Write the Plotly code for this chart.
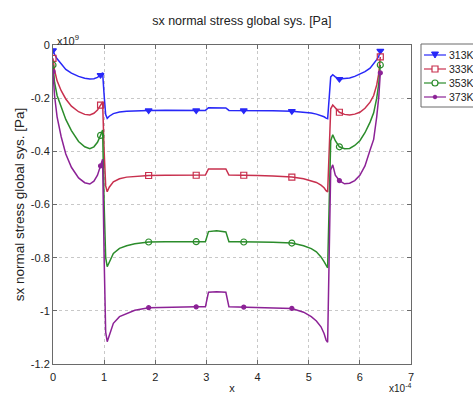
import plotly.graph_objects as go

# ---------------- data (x in 1e-4, stress in 1e9 Pa) ----------------
x = [0, 0.03, 0.08, 0.16, 0.25, 0.36, 0.5, 0.62, 0.72, 0.8,
     0.87, 0.93, 0.97, 1.0, 1.03, 1.06, 1.1, 1.18, 1.3, 1.44,
     1.6, 1.87, 2.2, 2.5, 2.8, 2.98, 3.04, 3.2, 3.38, 3.44,
     3.6, 3.73, 4.0, 4.3, 4.67, 4.9, 5.05, 5.15, 5.24, 5.3,
     5.34, 5.37, 5.4, 5.43, 5.47, 5.52, 5.6, 5.7, 5.8, 5.9,
     6.0, 6.1, 6.2, 6.27, 6.33, 6.37, 6.4]

s313 = [-0.02, -0.035, -0.052, -0.073, -0.092, -0.106, -0.118, -0.125, -0.128, -0.127,
        -0.122, -0.113, -0.104, -0.19, -0.262, -0.276, -0.268, -0.258, -0.252, -0.249,
        -0.247, -0.246, -0.245, -0.245, -0.246, -0.246, -0.236, -0.236, -0.237, -0.246,
        -0.246, -0.246, -0.246, -0.247, -0.249, -0.252, -0.256, -0.26, -0.265, -0.27,
        -0.275, -0.277, -0.2, -0.12, -0.112, -0.12, -0.128, -0.127, -0.124, -0.118,
        -0.11, -0.1, -0.087, -0.072, -0.055, -0.042, -0.022]

s333 = [-0.05, -0.095, -0.135, -0.172, -0.203, -0.23, -0.251, -0.261, -0.263, -0.257,
        -0.245, -0.226, -0.214, -0.4, -0.53, -0.552, -0.535, -0.515, -0.503, -0.497,
        -0.494, -0.491, -0.49, -0.49, -0.49, -0.489, -0.466, -0.465, -0.466, -0.489,
        -0.489, -0.49, -0.491, -0.493, -0.497, -0.503, -0.51, -0.517, -0.527, -0.537,
        -0.548, -0.553, -0.4, -0.24, -0.226, -0.238, -0.253, -0.261, -0.263, -0.26,
        -0.253, -0.238, -0.215, -0.19, -0.15, -0.107, -0.045]

s353 = [-0.075, -0.14, -0.19, -0.235, -0.28, -0.322, -0.363, -0.383, -0.39, -0.383,
        -0.366, -0.34, -0.32, -0.6, -0.8, -0.834, -0.815, -0.784, -0.765, -0.755,
        -0.748, -0.741, -0.74, -0.74, -0.74, -0.74, -0.702, -0.699, -0.703, -0.74,
        -0.74, -0.741, -0.741, -0.742, -0.745, -0.755, -0.766, -0.778, -0.797, -0.815,
        -0.832, -0.838, -0.6, -0.36, -0.338, -0.36, -0.383, -0.39, -0.389, -0.378,
        -0.36, -0.33, -0.29, -0.255, -0.2, -0.145, -0.075]

s373 = [-0.1, -0.19, -0.27, -0.345, -0.41, -0.46, -0.5, -0.518, -0.523, -0.512,
        -0.49, -0.455, -0.43, -0.8, -1.08, -1.116, -1.09, -1.047, -1.022, -1.01,
        -0.998, -0.988, -0.986, -0.985, -0.985, -0.985, -0.93, -0.928, -0.93, -0.985,
        -0.986, -0.986, -0.987, -0.988, -0.991, -1.005, -1.022, -1.038, -1.06, -1.085,
        -1.11, -1.118, -0.8, -0.47, -0.451, -0.49, -0.51, -0.522, -0.52, -0.51,
        -0.49, -0.455, -0.395, -0.355, -0.27, -0.195, -0.105]

marker_idx = [0, 11, 21, 24, 31, 34, 46, 56]

labels = ["313K", "333K", "353K", "373K"]
x_ticks = [0, 1, 2, 3, 4, 5, 6, 7]
x_ticktext = ["0", "1", "2", "3", "4", "5", "6", "7"]
y_ticks = [0, -0.2, -0.4, -0.6, -0.8, -1, -1.2]
y_ticktext = ["0", "-0.2", "-0.4", "-0.6", "-0.8", "-1", "-1.2"]

# ---------------- styles ----------------
series = [s313, s333, s353, s373]
colors = ["#2828f8", "#c8304e", "#2b8c2b", "#8c2296"]
symbols = ["triangle-down", "square-open", "circle-open", "circle"]
msizes = [6, 6, 6, 4]
FONT = "Liberation Sans, Arial, sans-serif"
TXT = "#222"

W, H = 473, 394
L, R, T, B = 53, 62, 45, 30
PW, PH = W - L - R, H - T - B


def px_x(p):
    return (p - L) / PW


def px_y(p):
    return (H - B - p) / PH


fig = go.Figure()
for s, c, sym, ms, lab in zip(series, colors, symbols, msizes, labels):
    fig.add_trace(go.Scatter(x=x, y=s, mode="lines", line=dict(color=c, width=1.5),
                             name=lab, showlegend=False, hoverinfo="skip"))
    fig.add_trace(go.Scatter(x=[x[i] for i in marker_idx], y=[s[i] for i in marker_idx],
                             mode="markers", showlegend=False, name=lab,
                             marker=dict(symbol=sym, size=ms, color=c,
                                         line=dict(color=c, width=1.2))))

axis_common = dict(showline=True, linecolor="#6a6a6a", linewidth=1, mirror="allticks",
                   ticks="inside", ticklen=4, tickcolor="#6a6a6a", automargin=False,
                   showgrid=True, gridcolor="#c8c8c8", griddash="dot", gridwidth=1,
                   zeroline=False, tickfont=dict(family=FONT, size=11, color=TXT))

fig.update_xaxes(range=[0, 7], tickvals=x_ticks, ticktext=x_ticktext, ticklabelstandoff=3,
                 title=dict(text="x", font=dict(family=FONT, size=11, color=TXT), standoff=8),
                 **axis_common)
fig.update_yaxes(range=[-1.2, 0], tickvals=y_ticks, ticktext=y_ticktext,
                 title=dict(text="sx normal stress global sys. [Pa]",
                            font=dict(family=FONT, size=13.5, color=TXT), standoff=3),
                 **axis_common)

shapes = []
annotations = []

# custom legend (partially outside the window, as in the reference)
shapes.append(dict(type="rect", xref="paper", yref="paper",
                   x0=px_x(421), x1=px_x(490), y0=px_y(107), y1=px_y(44),
                   line=dict(color="#6a6a6a", width=1), fillcolor="white", layer="above"))
entry_y = [55, 69, 83, 97]
for ey, c, sym, lab in zip(entry_y, colors, symbols, labels):
    yy = px_y(ey)
    shapes.append(dict(type="line", xref="paper", yref="paper",
                       x0=px_x(424), x1=px_x(446), y0=yy, y1=yy,
                       line=dict(color=c, width=1.2), layer="above"))
    xa = px_x(435)
    base = dict(xref="paper", yref="paper", xsizemode="pixel", ysizemode="pixel",
                xanchor=xa, yanchor=yy, layer="above")
    if sym == "triangle-down":
        shapes.append(dict(type="path", path="M-3.5,3 L3.5,3 L0,-3 Z",
                           fillcolor=c, line=dict(color=c, width=1), **base))
    elif sym == "square-open":
        shapes.append(dict(type="rect", x0=-3, x1=3, y0=-3, y1=3,
                           fillcolor="white", line=dict(color=c, width=1.2), **base))
    elif sym == "circle-open":
        shapes.append(dict(type="circle", x0=-3, x1=3, y0=-3, y1=3,
                           fillcolor="white", line=dict(color=c, width=1.2), **base))
    else:
        shapes.append(dict(type="circle", x0=-1.8, x1=1.8, y0=-1.8, y1=1.8,
                           fillcolor=c, line=dict(color=c, width=1), **base))
    annotations.append(dict(xref="paper", yref="paper", x=px_x(447), y=yy,
                            xanchor="left", yanchor="middle", showarrow=False,
                            text=lab, font=dict(family=FONT, size=10.5, color=TXT)))

# axis multipliers
annotations.append(dict(xref="paper", yref="paper", x=0, y=1, xanchor="left", yanchor="bottom",
                        xshift=2, yshift=-4, showarrow=False, text="x10<sup>9</sup>",
                        font=dict(family=FONT, size=11, color=TXT)))
annotations.append(dict(xref="paper", yref="paper", x=1, y=0, xanchor="right", yanchor="top",
                        xshift=2, yshift=-16, showarrow=False, text="x10<sup>-4</sup>",
                        font=dict(family=FONT, size=10, color=TXT)))

fig.update_layout(
    width=W, height=H,
    margin=dict(l=L, r=R, t=T, b=B, pad=0, autoexpand=False),
    paper_bgcolor="white", plot_bgcolor="white",
    title=dict(text="sx normal stress global sys. [Pa]", x=px_x(236), xanchor="center",
               y=1 - 21 / H, yanchor="middle", font=dict(family=FONT, size=12.5, color=TXT)),
    showlegend=False,
    shapes=shapes,
    annotations=annotations,
)

fig.write_html("out.html")
